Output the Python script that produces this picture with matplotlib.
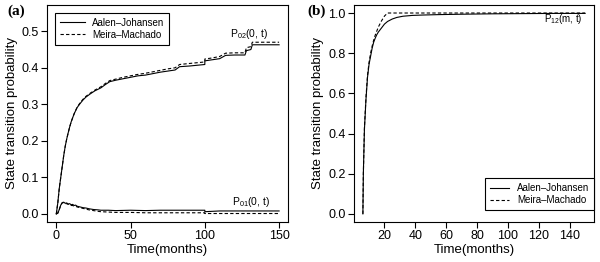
import matplotlib
matplotlib.use('Agg')
import matplotlib.pyplot as plt

plt.rcParams['font.family'] = ['Liberation Sans', 'DejaVu Sans']
plt.rcParams['mathtext.fontset'] = 'custom'
plt.rcParams['mathtext.rm'] = 'Liberation Sans'
plt.rcParams['mathtext.it'] = 'Liberation Sans'

# panel (a): P02(0,t)
t02 = [0, 1, 2, 3, 4, 5, 6, 7, 8, 9, 10, 12, 14, 16, 18, 20, 23, 26, 30, 33, 36,
       40, 45, 50, 55, 60, 65, 70, 75, 80, 83, 90, 95, 100, 100, 105, 110, 114,
       120, 127, 128, 131, 132, 150]
aj02 = [0, 0.03, 0.07, 0.10, 0.13, 0.16, 0.185, 0.205, 0.222, 0.238, 0.252, 0.274,
        0.291, 0.302, 0.312, 0.32, 0.329, 0.337, 0.345, 0.354, 0.362, 0.366, 0.370,
        0.374, 0.378, 0.380, 0.384, 0.388, 0.391, 0.394, 0.403, 0.405, 0.407, 0.409,
        0.419, 0.422, 0.425, 0.434, 0.435, 0.435, 0.447, 0.450, 0.463, 0.463]
mm02 = [0, 0.03, 0.07, 0.10, 0.13, 0.16, 0.185, 0.205, 0.222, 0.238, 0.252, 0.274,
        0.292, 0.304, 0.314, 0.322, 0.331, 0.339, 0.348, 0.357, 0.365, 0.369, 0.374,
        0.378, 0.382, 0.385, 0.389, 0.393, 0.397, 0.400, 0.409, 0.412, 0.414, 0.416,
        0.424, 0.427, 0.431, 0.440, 0.441, 0.441, 0.455, 0.458, 0.470, 0.470]

# panel (a): P01(0,t)
t01 = [0, 1, 2, 3, 4, 5, 6, 7, 8, 9, 10, 11, 12, 13, 14, 16, 18, 20, 22, 25, 28,
       30, 35, 40, 50, 60, 70, 80, 90, 100, 100, 110, 120, 130, 140, 150]
aj01 = [0, 0.002, 0.012, 0.024, 0.031, 0.032, 0.029, 0.030, 0.027, 0.028, 0.025,
        0.026, 0.023, 0.024, 0.021, 0.019, 0.017, 0.016, 0.014, 0.012, 0.011, 0.010,
        0.010, 0.009, 0.010, 0.009, 0.010, 0.010, 0.010, 0.010, 0.006, 0.008, 0.008,
        0.008, 0.008, 0.008]
mm01 = [0, 0.002, 0.012, 0.024, 0.030, 0.031, 0.028, 0.028, 0.026, 0.026, 0.023,
        0.023, 0.021, 0.021, 0.019, 0.017, 0.015, 0.013, 0.011, 0.009, 0.007, 0.006,
        0.005, 0.004, 0.004, 0.003, 0.003, 0.003, 0.003, 0.003, 0.001, 0.001, 0.001,
        0.001, 0.001, 0.001]

# panel (b): P12(m,t)
t12 = [6, 6.3, 7, 8, 9, 10, 11, 12, 13, 14, 15, 16, 17, 18, 20, 22, 25, 28, 32,
       38, 45, 55, 70, 90, 110, 130, 150]
aj12 = [0, 0.2, 0.42, 0.57, 0.68, 0.745, 0.785, 0.825, 0.855, 0.875, 0.892, 0.905,
        0.915, 0.925, 0.945, 0.958, 0.970, 0.978, 0.984, 0.988, 0.990, 0.992, 0.994,
        0.996, 0.997, 0.998, 0.998]
mm12 = [0, 0.2, 0.43, 0.58, 0.69, 0.755, 0.80, 0.835, 0.865, 0.89, 0.91, 0.93,
        0.945, 0.96, 0.985, 1.0, 1.0, 1.0, 1.0, 1.0, 1.0, 1.0, 1.0, 1.0, 1.0, 1.0, 1.0]

fig = plt.figure(figsize=(6, 2.62), dpi=100)
ax1 = fig.add_axes([0.079, 0.153, 0.401, 0.828])
ax2 = fig.add_axes([0.59, 0.153, 0.400, 0.828])

lw = 0.8
dash = (0, (3, 2))


def style(ax):
    for s in ax.spines.values():
        s.set_linewidth(0.8)
    ax.tick_params(direction='out', length=4, width=0.8, pad=2, labelsize=9)
    ax.set_xlabel('Time(months)', fontsize=9.5, labelpad=1)
    ax.set_ylabel('State transition probability', fontsize=9.5, labelpad=3)


ax1.plot(t02, aj02, color='black', lw=lw, label='Aalen–Johansen')
ax1.plot(t02, mm02, color='black', lw=lw, linestyle=dash, label='Meira–Machado')
ax1.plot(t01, aj01, color='black', lw=lw)
ax1.plot(t01, mm01, color='black', lw=lw, linestyle=dash)
ax1.set_xlim(-6, 156)
ax1.set_ylim(-0.022, 0.572)
ax1.set_xticks([0, 50, 100, 150])
ax1.set_yticks([0.0, 0.1, 0.2, 0.3, 0.4, 0.5])
ax1.text(130, 0.483, r'P$_{02}$(0, t)', fontsize=7.5, ha='center')
ax1.text(131, 0.023, r'P$_{01}$(0, t)', fontsize=7.5, ha='center')
style(ax1)
leg1 = ax1.legend(loc='upper left', bbox_to_anchor=(0.033, 0.963), borderaxespad=0,
                  fontsize=7, fancybox=False, edgecolor='black', framealpha=1,
                  handlelength=2.5, borderpad=0.5, labelspacing=0.2)
leg1.get_frame().set_linewidth(0.8)
ax1.text(-0.165, 1.0, '(a)', transform=ax1.transAxes, fontsize=11,
         fontweight='bold', family='Liberation Serif', va='top')

ax2.plot(t12, aj12, color='black', lw=lw, label='Aalen–Johansen')
ax2.plot(t12, mm12, color='black', lw=lw, linestyle=dash, label='Meira–Machado')
ax2.set_xlim(0.24, 155.76)
ax2.set_ylim(-0.04, 1.04)
ax2.set_xticks([20, 40, 60, 80, 100, 120, 140])
ax2.set_yticks([0.0, 0.2, 0.4, 0.6, 0.8, 1.0])
ax2.text(136, 0.955, r'P$_{12}$(m, t)', fontsize=7, ha='center')
style(ax2)
leg2 = ax2.legend(loc='lower right', bbox_to_anchor=(1.0, 0.055), borderaxespad=0,
                  fontsize=7, fancybox=False, edgecolor='black', framealpha=1,
                  handlelength=2.0, borderpad=0.5, labelspacing=0.2)
leg2.get_frame().set_linewidth(0.8)
fig.text(0.512, 0.981, '(b)', fontsize=11, fontweight='bold',
         family='Liberation Serif', va='top')

fig.savefig('out.png', dpi=100)
